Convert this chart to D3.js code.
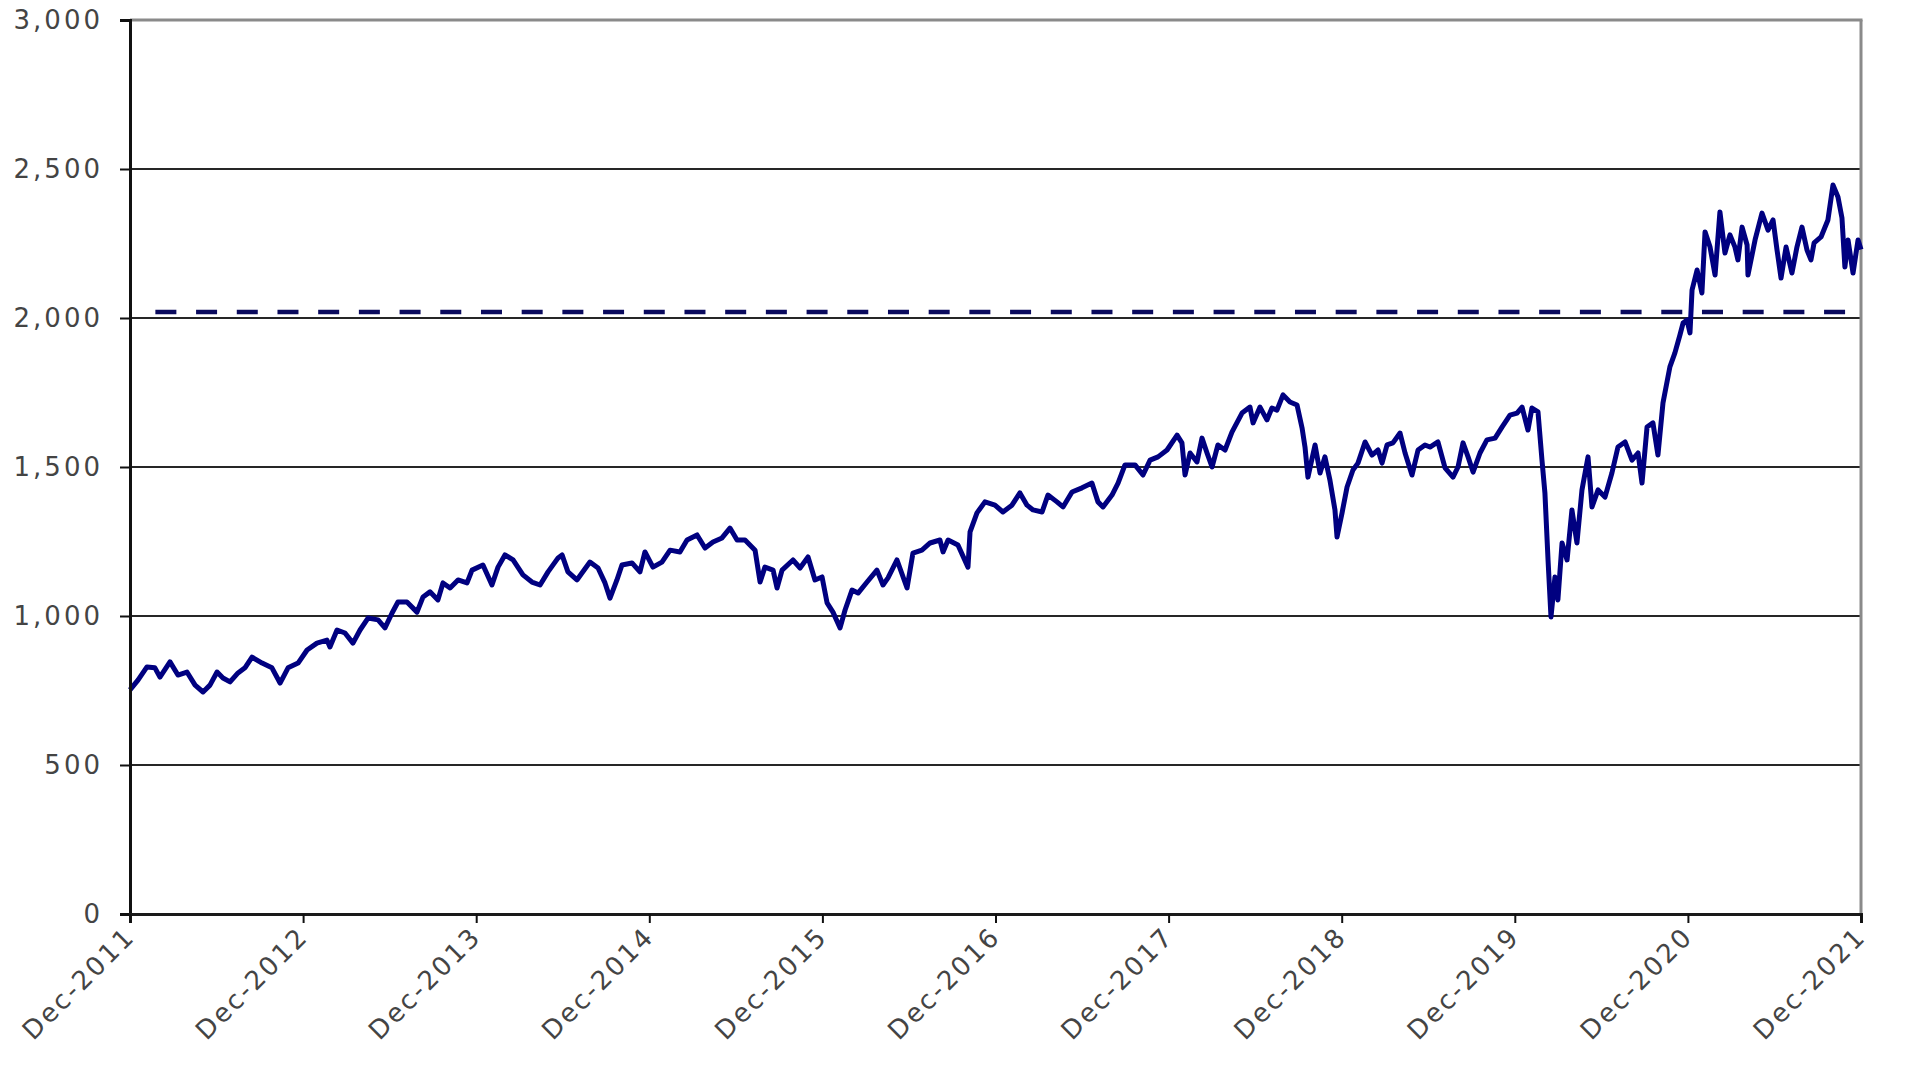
<!DOCTYPE html>
<html>
<head>
<meta charset="utf-8">
<script src="https://cdn.jsdelivr.net/npm/d3@7"></script>
<style>
  html, body { margin: 0; padding: 0; background: #fff; }
  svg { display: block; }
</style>
</head>
<body>
<svg id="chart" width="1916" height="1077"></svg>
<script>
// ---- Data ----
// x positions: years elapsed since Dec-2011
const tickLabels = ["Dec-2011","Dec-2012","Dec-2013","Dec-2014","Dec-2015","Dec-2016","Dec-2017","Dec-2018","Dec-2019","Dec-2020","Dec-2021"];
const yTicks = [0, 500, 1000, 1500, 2000, 2500, 3000];

const yearsSince = [
  0.000,0.046,0.098,0.144,0.173,0.231,0.277,0.329,0.376,0.422,0.462,0.503,0.537,0.578,0.624,0.664,0.705,0.763,0.820,0.867,
  0.913,0.971,1.023,1.080,1.138,1.155,1.196,1.242,1.288,1.329,1.375,1.433,1.473,1.514,1.548,1.600,1.658,1.693,1.733,1.779,
  1.808,1.849,1.895,1.947,1.976,2.039,2.091,2.126,2.166,2.213,2.270,2.322,2.369,2.415,2.473,
  2.496,2.530,2.582,2.611,2.657,2.704,2.744,2.773,2.813,2.842,2.900,2.946,2.975,3.021,3.073,3.120,3.177,3.218,3.276,3.322,
  3.368,3.420,3.466,3.507,3.553,3.611,3.640,3.668,3.715,3.738,3.767,3.830,3.871,3.917,3.957,3.998,4.027,4.061,4.102,4.131,
  4.171,4.206,4.258,4.315,4.350,4.379,4.431,4.489,4.523,4.575,4.622,4.679,4.697,4.726,4.783,4.841,4.853,4.893,4.939,
  4.997,5.043,5.095,5.141,5.182,5.217,5.269,5.303,5.355,5.390,5.442,5.500,5.557,5.592,5.621,5.673,5.708,5.748,5.806,5.852,
  5.893,5.939,5.991,6.049,6.077,6.095,6.124,6.164,6.193,6.222,6.251,6.285,6.326,6.366,6.424,6.470,6.488,6.528,6.568,6.597,
  6.626,6.661,6.701,6.742,6.771,6.788,6.805,6.846,6.875,6.903,6.932,6.961,6.973,7.002,7.031,7.065,7.094,7.135,7.175,7.210,
  7.233,7.262,7.296,7.337,7.366,7.406,7.441,7.481,
  7.510,7.556,7.597,7.643,7.672,7.701,7.730,7.759,7.799,7.839,7.886,7.926,7.972,8.013,8.042,8.076,8.099,8.134,8.157,8.174,
  8.192,8.209,8.232,8.249,8.273,8.302,8.330,8.359,8.388,8.423,8.446,8.481,8.521,8.561,8.596,8.637,8.677,8.712,8.735,8.764,
  8.798,8.827,8.856,8.896,8.925,8.954,8.972,8.995,9.012,9.024,9.053,9.081,9.099,9.128,9.157,9.185,9.214,9.243,9.272,9.289,
  9.313,9.342,9.347,9.388,9.428,9.463,9.492,9.515,9.538,9.567,9.601,9.630,9.659,9.688,9.711,9.729,9.769,9.809,9.838,9.867,
  9.890,9.907,9.925,9.954,9.983,10.000
];
const indexValues = [
  752,785,829,826,795,846,802,812,768,745,768,812,792,779,809,826,862,842,826,775,
  826,842,886,909,919,896,953,943,909,953,993,987,960,1010,1047,1047,1013,1064,1081,1054,
  1111,1094,1121,1111,1154,1171,1104,1164,1205,1188,1138,1114,1104,1148,1195,
  1205,1148,1121,1144,1181,1161,1111,1060,1121,1171,1178,1148,1215,1164,1181,1221,1215,1255,1272,1228,
  1248,1262,1295,1255,1255,1221,1114,1164,1154,1094,1154,1188,1161,1198,1121,1131,1044,1013,960,1020,
  1087,1077,1114,1154,1104,1128,1188,1094,1211,1221,1245,1255,1215,1255,1238,1164,1282,1346,1383,
  1372,1349,1372,1413,1372,1356,1349,1406,1383,1366,1416,1430,1446,1383,1366,1406,1446,1507,1507,1473,
  1523,1534,1557,1607,1581,1473,1547,1517,1597,1547,1500,1574,1557,1617,1681,1701,1648,1701,1658,1698,
  1691,1742,1718,1708,1631,1567,1466,1574,1480,1534,1456,1356,1265,1346,1433,1490,1513,1584,1540,1557,
  1513,1574,1581,1614,1547,1473,1557,1574,
  1567,1584,1497,1466,1500,1581,1534,1483,1547,1591,1597,1634,1674,1681,1701,1624,1698,1685,1523,1413,
  1188,997,1131,1054,1245,1188,1356,1245,1423,1534,1366,1423,1399,1480,1567,1584,1523,1547,1446,1634,
  1648,1540,1715,1836,1883,1943,1983,1993,1950,2094,2161,2084,2289,2238,2144,2356,2218,2279,2238,2195,
  2305,2245,2144,2262,2352,2295,2329,2228,2134,2238,2151,2238,2305,2228,2195,2252,2272,2329,2446,2406,
  2336,2171,2262,2151,2262,2230
];
// dashed reference level
const referenceLevel = 2020;
const referenceSpan = [9.908, 0.07];

// ---- Layout ----
const svg = d3.select("#chart");
const mLeft = 130, mRight = 1861, mTop = 20, mBottom = 914;

const x = d3.scaleLinear().domain([0, 10]).range([mLeft, mRight]);
const y = d3.scaleLinear().domain([0, 3000]).range([mBottom, mTop]);

const points = yearsSince.map((t, i) => ({ t, v: indexValues[i] }));

// gridlines
svg.append("g").selectAll("line")
  .data(yTicks.filter(d => d > 0 && d < 3000))
  .join("line")
  .attr("x1", mLeft).attr("x2", mRight)
  .attr("y1", d => y(d)).attr("y2", d => y(d))
  .attr("stroke", "#262626").attr("stroke-width", 2);

// top & right border (gray)
svg.append("line").attr("x1", mLeft).attr("x2", mRight + 1.5).attr("y1", y(3000)).attr("y2", y(3000))
  .attr("stroke", "#8a8a8a").attr("stroke-width", 3);
svg.append("line").attr("x1", mRight).attr("x2", mRight).attr("y1", y(3000)).attr("y2", mBottom)
  .attr("stroke", "#8a8a8a").attr("stroke-width", 3);

// dashed reference line
svg.append("path")
  .datum(referenceSpan)
  .attr("d", d3.line().x(d => x(d)).y(() => y(referenceLevel)))
  .attr("fill", "none")
  .attr("stroke", "#0a0a5e")
  .attr("stroke-width", 4.5)
  .attr("stroke-dasharray", "21,19.7");

// series line
svg.append("path")
  .datum(points)
  .attr("d", d3.line().x(d => x(d.t)).y(d => y(d.v)))
  .attr("fill", "none")
  .attr("stroke", "#000080")
  .attr("stroke-width", 5)
  .attr("stroke-linejoin", "round");

// y axis
const yAxis = svg.append("g")
  .attr("transform", `translate(${mLeft},0)`)
  .call(d3.axisLeft(y).tickValues(yTicks).tickFormat(d3.format(",")).tickSize(10).tickPadding(17));
yAxis.select(".domain").attr("stroke", "#111").attr("stroke-width", 3);
yAxis.selectAll(".tick line").attr("stroke", "#111").attr("stroke-width", 2);
yAxis.selectAll(".tick text")
  .attr("font-family", "'DejaVu Sans', Verdana, sans-serif")
  .attr("font-size", 26)
  .attr("letter-spacing", "3px")
  .attr("fill", "#444");

// x axis
const xAxis = svg.append("g")
  .attr("transform", `translate(0,${mBottom})`)
  .call(d3.axisBottom(x).tickValues(d3.range(0, 11)).tickFormat(i => tickLabels[i]).tickSize(9));
xAxis.select(".domain").attr("stroke", "#1a1a1a").attr("stroke-width", 3);
xAxis.selectAll(".tick line").attr("stroke", "#111").attr("stroke-width", 2);
xAxis.selectAll(".tick text")
  .attr("font-family", "'DejaVu Sans', Verdana, sans-serif")
  .attr("font-size", 26)
  .attr("letter-spacing", "2.5px")
  .attr("fill", "#444")
  .attr("text-anchor", "end")
  .attr("dy", null)
  .attr("y", 0)
  .attr("transform", "translate(6,24) rotate(-45)");
</script>
</body>
</html>
